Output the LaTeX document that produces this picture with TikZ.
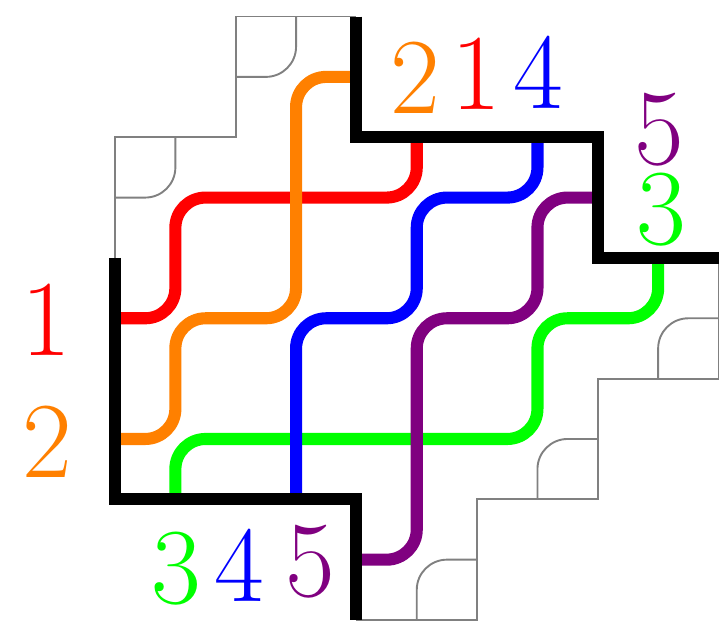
\documentclass[tikz,border=0pt]{standalone}
\usepackage{tikz}
\definecolor{pipepurple}{RGB}{128,0,128}

\begin{document}
\begin{tikzpicture}[x=2cm,y=2cm,
    pipe/.style={line width=5.7pt, rounded corners=0.5cm},
    wall/.style={line width=5.7pt},
    tile/.style={gray, line width=0.9pt},
    arctile/.style={tile, rounded corners=0.5cm},
    lbl/.style={inner sep=0pt, font=\fontsize{51}{60}\selectfont}]
  \useasboundingbox (-0.953,-0.141) rectangle (5.029,5.137);
  % outline of the board
  \draw[tile] (0,3) -- (0,4) -- (1,4) -- (1,5) -- (2,5);
  \draw[tile] (2,0) -- (3,0) -- (3,1) -- (4,1) -- (4,2) -- (5,2) -- (5,3);
  \draw[arctile] (0.5,4) -- (0.5,3.5) -- (0,3.5);
  \draw[arctile] (1.5,5) -- (1.5,4.5) -- (1,4.5);
  \draw[arctile] (2.5,0) -- (2.5,0.5) -- (3,0.5);
  \draw[arctile] (3.5,1) -- (3.5,1.5) -- (4,1.5);
  \draw[arctile] (4.5,2) -- (4.5,2.5) -- (5,2.5);
  % pipes
  \draw[pipe, red] (0,2.5) -- (0.5,2.5) -- (0.5,3.5) -- (2.5,3.5) -- (2.5,4);
  \draw[pipe, green] (0.5,1) -- (0.5,1.5) -- (3.5,1.5) -- (3.5,2.5) -- (4.5,2.5) -- (4.5,3);
  \draw[pipe, orange] (0,1.5) -- (0.5,1.5) -- (0.5,2.5) -- (1.5,2.5) -- (1.5,4.5) -- (2,4.5);
  \draw[pipe, blue] (1.5,1) -- (1.5,2.5) -- (2.5,2.5) -- (2.5,3.5) -- (3.5,3.5) -- (3.5,4);
  \draw[pipe, pipepurple] (2,0.5) -- (2.5,0.5) -- (2.5,2.5) -- (3.5,2.5) -- (3.5,3.5) -- (4,3.5);
  % walls
  \draw[wall] (0,3) -- (0,1) -- (2,1) -- (2,0);
  \draw[wall] (2,5) -- (2,4) -- (4,4) -- (4,3) -- (5,3);
  % labels
  \node[lbl, red] (left1) at (-0.57,2.49) {1};
  \node[lbl, orange] (left2) at (-0.56,1.48) {2};
  \node[lbl, orange] (top2) at (2.49,4.49) {2};
  \node[lbl, red] (top1) at (2.99,4.53) {1};
  \node[lbl, blue] (top4) at (3.51,4.54) {4};
  \node[lbl, pipepurple] (right5) at (4.51,4.06) {5};
  \node[lbl, green] (right3) at (4.53,3.40) {3};
  \node[lbl, green] (bot3) at (0.51,0.43) {3};
  \node[lbl, blue] (bot4) at (1.03,0.45) {4};
  \node[lbl, pipepurple] (bot5) at (1.62,0.48) {5};
\end{tikzpicture}
\end{document}
